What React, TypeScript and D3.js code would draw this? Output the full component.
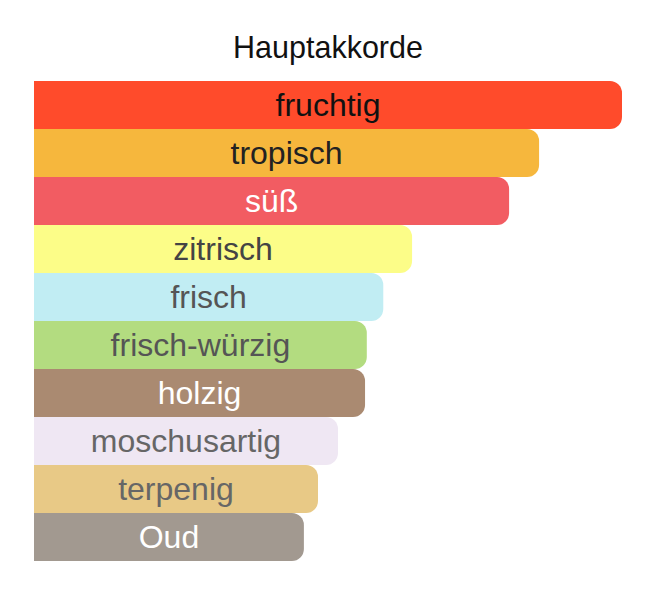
import React, { useEffect, useRef } from 'react';
import * as d3 from 'd3';

const chartTitle = 'Hauptakkorde';
const accords = ['fruchtig', 'tropisch', 'süß', 'zitrisch', 'frisch', 'frisch-würzig', 'holzig', 'moschusartig', 'terpenig', 'Oud'];
const strengths = [100, 85.9, 80.8, 64.3, 59.4, 56.6, 56.3, 51.7, 48.3, 45.9];
const barColors = ['#ff4b2b', '#f6b73d', '#f25c62', '#fcfd88', '#c1edf3', '#b3dc80', '#aa8a71', '#efe7f3', '#e8c986', '#a29990'];
const textColors = ['#111111', '#222222', '#ffffff', '#444444', '#555555', '#555555', '#ffffff', '#666666', '#666666', '#ffffff'];

const W = 648;
const H = 592;

function App() {
  const svgRef = useRef<SVGSVGElement>(null);

  useEffect(() => {
    if (!svgRef.current) return;
    const svg = d3.select(svgRef.current);
    svg.selectAll('*').remove();

    const margin = { top: 81, left: 34, right: 26, bottom: 31 };
    const x = d3.scaleLinear().domain([0, 100]).range([margin.left, W - margin.right]);
    const y = d3.scaleBand().domain(accords).range([margin.top, H - margin.bottom]).padding(0);
    const r = 12;

    const barPath = (w: number, y0: number, h: number) => {
      const x0 = margin.left;
      const x1 = x0 + w;
      return `M${x0},${y0}H${x1 - r}A${r},${r} 0 0 1 ${x1},${y0 + r}V${y0 + h - r}A${r},${r} 0 0 1 ${x1 - r},${y0 + h}H${x0}Z`;
    };

    svg.append('text')
      .attr('x', (x(0) + x(100)) / 2)
      .attr('y', 58)
      .attr('text-anchor', 'middle')
      .attr('font-family', 'Liberation Sans, Arial, sans-serif')
      .attr('font-size', 30.5)
      .attr('fill', '#111')
      .text(chartTitle);

    const rows = svg.append('g')
      .selectAll('g')
      .data(accords)
      .join('g');

    rows.append('path')
      .attr('d', (d, i) => barPath(x(strengths[i]) - x(0), y(d)!, y.bandwidth()))
      .attr('fill', (_, i) => barColors[i]);

    rows.append('text')
      .attr('x', (_, i) => (x(0) + x(strengths[i])) / 2)
      .attr('y', d => y(d)! + y.bandwidth() / 2 + 11)
      .attr('text-anchor', 'middle')
      .attr('font-family', 'Liberation Sans, Arial, sans-serif')
      .attr('font-size', 32)
      .attr('fill', (_, i) => textColors[i])
      .text(d => d);
  }, []);

  return (
    <div style={{ position: 'absolute', top: 0, left: 0, background: '#fff' }}>
      <svg ref={svgRef} width={W} height={H} style={{ display: 'block' }} />
    </div>
  );
}

export default App;
